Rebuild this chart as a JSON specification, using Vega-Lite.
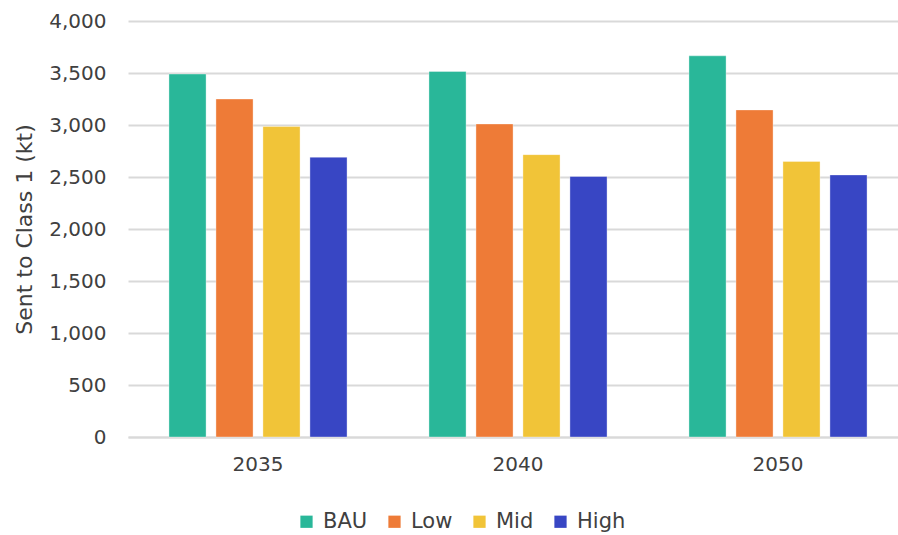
{
  "$schema": "https://vega.github.io/schema/vega-lite/v6.json",
  "width": 780,
  "height": 416,
  "autosize": {"type": "none"},
  "padding": {"left": 128, "top": 21, "right": 0, "bottom": 98},
  "background": "#ffffff",
  "config": {
    "font": "DejaVu Sans",
    "view": {"stroke": null},
    "axis": {"labelFont": "DejaVu Sans", "titleFont": "DejaVu Sans"},
    "legend": {"labelFont": "DejaVu Sans"}
  },
  "data": {
    "values": [
      {"year": "2035", "scenario": "BAU", "kt": 3490},
      {"year": "2035", "scenario": "Low", "kt": 3250},
      {"year": "2035", "scenario": "Mid", "kt": 2985},
      {"year": "2035", "scenario": "High", "kt": 2690},
      {"year": "2040", "scenario": "BAU", "kt": 3515},
      {"year": "2040", "scenario": "Low", "kt": 3010},
      {"year": "2040", "scenario": "Mid", "kt": 2715},
      {"year": "2040", "scenario": "High", "kt": 2505},
      {"year": "2050", "scenario": "BAU", "kt": 3665},
      {"year": "2050", "scenario": "Low", "kt": 3145},
      {"year": "2050", "scenario": "Mid", "kt": 2650},
      {"year": "2050", "scenario": "High", "kt": 2520}
    ]
  },
  "mark": {"type": "bar", "stroke": "#ffffff", "strokeOpacity": 0.35, "strokeWidth": 1},
  "encoding": {
    "x": {
      "field": "year",
      "type": "nominal",
      "scale": {"paddingInner": 0.315, "paddingOuter": 0.1575},
      "axis": {
        "title": null,
        "labelAngle": 0,
        "labelFontSize": 20,
        "labelColor": "#404040",
        "labelPadding": 17,
        "ticks": false,
        "domainColor": "#d9d9d9",
        "domainWidth": 2,
        "grid": false
      }
    },
    "xOffset": {
      "field": "scenario",
      "type": "nominal",
      "sort": ["BAU", "Low", "Mid", "High"],
      "scale": {"paddingInner": 0.21, "paddingOuter": 0}
    },
    "y": {
      "field": "kt",
      "type": "quantitative",
      "scale": {"domain": [0, 4000], "nice": false},
      "axis": {
        "title": "Sent to Class 1 (kt)",
        "titleFontSize": 22,
        "titleFontWeight": "normal",
        "titleColor": "#404040",
        "titlePadding": 12,
        "values": [0, 500, 1000, 1500, 2000, 2500, 3000, 3500, 4000],
        "format": ",d",
        "labelFontSize": 20,
        "labelColor": "#404040",
        "labelPadding": 22,
        "ticks": false,
        "domain": false,
        "gridColor": "#d9d9d9",
        "gridWidth": 2
      }
    },
    "color": {
      "field": "scenario",
      "type": "nominal",
      "sort": ["BAU", "Low", "Mid", "High"],
      "scale": {
        "domain": ["BAU", "Low", "Mid", "High"],
        "range": ["#29b799", "#ee7b37", "#f1c438", "#3846c4"]
      },
      "legend": {
        "title": null,
        "orient": "none",
        "direction": "horizontal",
        "legendX": 168,
        "legendY": 490,
        "symbolType": "square",
        "symbolSize": 150,
        "symbolStrokeWidth": 0,
        "labelFontSize": 21,
        "labelColor": "#404040",
        "labelOffset": 6,
        "columnPadding": 16
      }
    }
  }
}
